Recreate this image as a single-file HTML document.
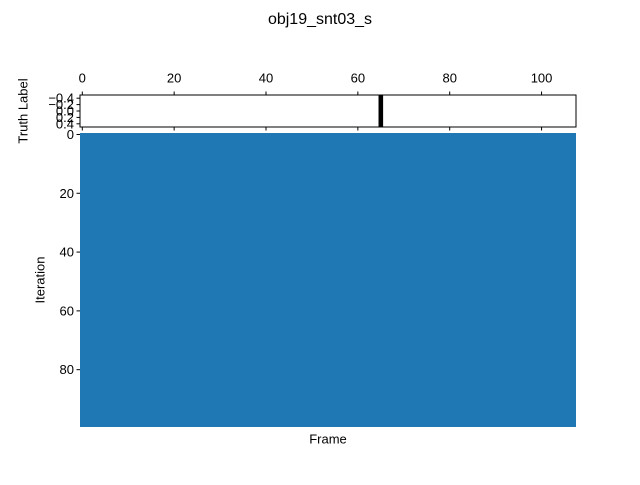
<!DOCTYPE html>
<html><head><meta charset="utf-8"><style>
body{margin:0;background:#fff;}
svg{font-family:"Liberation Sans","DejaVu Sans",sans-serif;}
</style></head><body>
<svg id="chart" width="640" height="480" viewBox="0 0 640 480">
<rect width="640" height="480" fill="#fff"/>
<text x="320" y="24" font-size="16" text-anchor="middle">obj19_snt03_s</text>
<g id="topg"></g>
<g id="botg"></g>
</svg>
<script>
const frameCount = 108;
const iterationCount = 100;
const truthFrames = [65];
const xTicks = [0, 20, 40, 60, 80, 100];
const yTopTicks = [-0.4, -0.2, 0.0, 0.2, 0.4];
const yTopLabels = ["\u22120.4", "\u22120.2", "0.0", "0.2", "0.4"];
const yBotTicks = [0, 20, 40, 60, 80];

const NS = "http://www.w3.org/2000/svg";
function mk(tag, attrs, parent){const e=document.createElementNS(NS,tag);for(const k in attrs)e.setAttribute(k,attrs[k]);parent.appendChild(e);return e;}
const L=80, R=576, TT=95, TB=127, BT=133, BB=427;
const xs = v => L + (v + 0.5) / frameCount * (R - L);
const yTop = v => TT + (v + 0.5) / 1 * (TB - TT);
const yBot = v => BT + (v + 0.5) / iterationCount * (BB - BT);
const topPanel = document.getElementById('topg'), botPanel = document.getElementById('botg');

let r = mk('rect',{x:L,y:TT,width:R-L,height:TB-TT,fill:'#fff',stroke:'none'},topPanel);


truthFrames.forEach(f=>{
  const b = mk('rect',{x:xs(f-0.5),y:TT,width:xs(f+0.5)-xs(f-0.5),height:TB-TT,fill:'#000'},topPanel);
  
  
});
r = mk('rect',{x:L,y:TT,width:R-L,height:TB-TT,fill:'none',stroke:'#000','stroke-width':1},topPanel);


xTicks.forEach(t=>{
  const x=xs(t);
  mk('line',{x1:x,x2:x,y1:TT,y2:TT-3.5,stroke:'#000'},topPanel);
  mk('line',{x1:x,x2:x,y1:TB,y2:TB+3.5,stroke:'#000'},topPanel);
  const tx=mk('text',{x:x,y:TT-17,'font-size':13,'text-anchor':'middle','dominant-baseline':'central'},topPanel);
  tx.textContent=t;
  
  
});
yTopTicks.forEach((t,i)=>{
  const y=yTop(t);
  mk('line',{x1:L,x2:L-3.5,y1:y,y2:y,stroke:'#000'},topPanel);
  const tx=mk('text',{x:L-6,y:y,'font-size':13,'text-anchor':'end','dominant-baseline':'central'},topPanel);
  tx.textContent=yTopLabels[i];
  
  
});
let yl = mk('text',{x:23,y:111,'font-size':13,'text-anchor':'middle',transform:'rotate(-90 23 111)','dominant-baseline':'central'},topPanel);
yl.textContent='Truth Label';



r = mk('rect',{x:L,y:BT,width:R-L,height:BB-BT,fill:'#1f77b4'},botPanel);


yBotTicks.forEach(t=>{
  const y=yBot(t);
  mk('line',{x1:L,x2:L-3.5,y1:y,y2:y,stroke:'#000'},botPanel);
  const tx=mk('text',{x:L-6,y:y,'font-size':13,'text-anchor':'end','dominant-baseline':'central'},botPanel);
  tx.textContent=t;
  
  
});
yl = mk('text',{x:40,y:280,'font-size':13,'text-anchor':'middle',transform:'rotate(-90 40 280)','dominant-baseline':'central'},botPanel);
yl.textContent='Iteration';


const xl = mk('text',{x:328,y:439,'font-size':13,'text-anchor':'middle','dominant-baseline':'central'},botPanel);
xl.textContent='Frame';


</script>
</body></html>
